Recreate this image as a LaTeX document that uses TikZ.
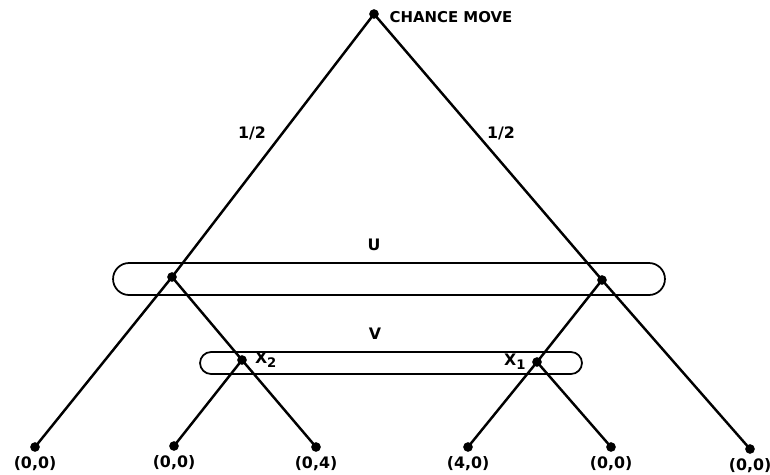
\documentclass[tikz,border=0pt]{standalone}
\usepackage{fontspec}
\setmainfont{DejaVu Sans}
\usetikzlibrary{positioning}

\newcommand{\sub}[1]{\raisebox{-0.5ex}{\fontsize{7.5}{8}\selectfont #1}}

\begin{document}
\begin{tikzpicture}[x=0.02cm, y=-0.02cm,
  move/.style={circle, fill=black, inner sep=0pt, minimum size=5.5pt},
  branch/.style={line width=1.4pt},
  infoset/.style={draw, line width=1pt, inner sep=0pt},
  lbl/.style={font=\fontsize{9}{10}\selectfont\bfseries, inner sep=0pt},
]
\useasboundingbox (0,0) rectangle (770,474);

% Moves
\node[move] (root) at (374,14) {};
\node[move] (uL) at (172,277) {};
\node[move] (uR) at (602,280) {};
\node[move] (x2) at (242,360) {};
\node[move] (x1) at (537,362) {};

% Terminal nodes
\node[move] (t1) at (35,447) {};
\node[move] (t2) at (174,446) {};
\node[move] (t3) at (316,447) {};
\node[move] (t4) at (468,447) {};
\node[move] (t5) at (611,447) {};
\node[move] (t6) at (750,449) {};

% Information sets
\node[infoset, minimum width=11.04cm, minimum height=0.64cm, rounded corners=0.32cm] (setU) at (389,279) {};
\node[infoset, minimum width=7.64cm, minimum height=0.44cm, rounded corners=0.22cm] (setV) at (391,363) {};
\node[lbl] (labU) at (374,245) {U};
\node[lbl] (labV) at (375,334) {V};

% Branches
\draw[branch] (root.center) -- (uL.center);
\draw[branch] (root.center) -- (uR.center);
\draw[branch] (uL.center) -- (t1.center);
\draw[branch] (uL.center) -- (x2.center) -- (t3.center);
\draw[branch] (x2.center) -- (t2.center);
\draw[branch] (uR.center) -- (t6.center);
\draw[branch] (uR.center) -- (x1.center) -- (t4.center);
\draw[branch] (x1.center) -- (t5.center);

% Labels
\node[lbl, font=\fontsize{8.5}{10}\selectfont\bfseries, right=0.2cm of root, yshift=-2pt] (chance) {CHANCE MOVE};
\node[lbl] (pL) at (252,133) {1/2};
\node[lbl] (pR) at (501,133) {1/2};
\node[lbl, right=0.15cm of x2] (labX2) {X\sub{2}};
\node[lbl, left=0.12cm of x1] (labX1) {X\sub{1}};

% Payoffs
\foreach \t/\pay in {t1/{(0,0)}, t2/{(0,0)}, t3/{(0,4)}, t4/{(4,0)}, t5/{(0,0)}, t6/{(0,0)}}
  \node[lbl, below=0.08cm of \t] (pay-\t) {\pay};
\end{tikzpicture}
\end{document}
